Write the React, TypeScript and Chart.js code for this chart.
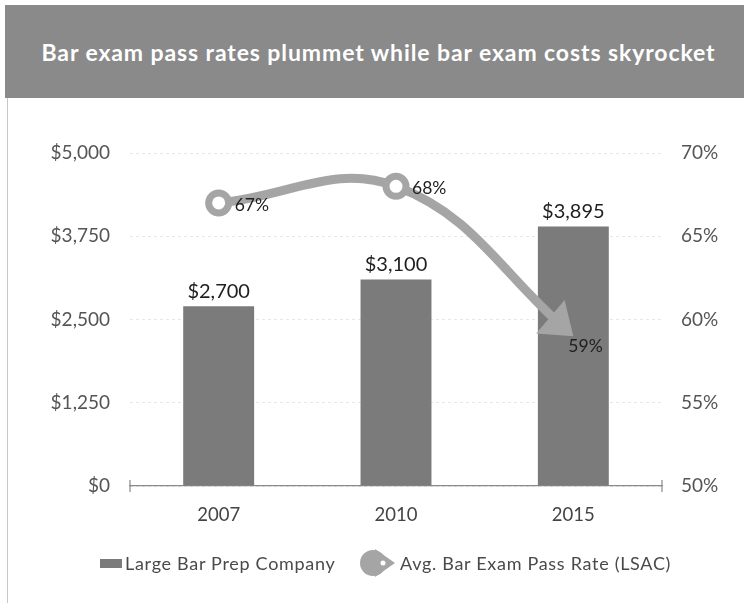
import React, { useEffect, useRef } from "react";
import { Chart, registerables } from "chart.js";

Chart.register(...registerables);

const title = "Bar exam pass rates plummet while bar exam costs skyrocket";
const categories = ["2007", "2010", "2015"];
const costValues = [2700, 3100, 3895];
const passRates = [67, 68, 59];
const costTicks = [0, 1250, 2500, 3750, 5000];
const rateTicks = [50, 55, 60, 65, 70];
const costLabel = "Large Bar Prep Company";
const rateLabel = "Avg. Bar Exam Pass Rate (LSAC)";

const FONT = "Lato, 'Open Sans', sans-serif";
const BAR_COLOR = "#7b7b7b";
const LINE_COLOR = "#a5a5a5";
const TITLE_BG = "#8a8a8a";

const fmtMoney = (v: number) => "$" + v.toLocaleString("en-US");
const fmtPct = (v: number) => v + "%";

const arrowPlugin = {
  id: "arrowAndLabels",
  beforeDatasetDraw(chart: any, args: any) {
    if (args.index !== 1) return;
    const meta = chart.getDatasetMeta(1);
    const last = meta.data[meta.data.length - 1];
    const ctx = chart.ctx;
    ctx.save();
    ctx.beginPath();
    ctx.rect(0, 0, chart.width, chart.height);
    ctx.arc(last.x, last.y, 12, 0, Math.PI * 2, true);
    ctx.clip("evenodd");
  },
  afterDatasetDraw(chart: any, args: any) {
    if (args.index !== 1) return;
    chart.ctx.restore();
  },
  afterDatasetsDraw(chart: any) {
    const ctx = chart.ctx;
    const lmeta = chart.getDatasetMeta(1);
    const pts = lmeta.data;
    const last = pts[pts.length - 1];
    const prev = pts[pts.length - 2];
    let dx = last.x - prev.x;
    let dy = last.y - prev.y;
    const len = Math.hypot(dx, dy) || 1;
    dx /= len;
    dy /= len;
    const aLen = 30;
    const half = 22;
    const bx = last.x - dx * aLen;
    const by = last.y - dy * aLen;
    ctx.save();
    ctx.fillStyle = LINE_COLOR;
    ctx.beginPath();
    ctx.moveTo(last.x, last.y);
    ctx.lineTo(bx - dy * half, by + dx * half);
    ctx.lineTo(bx + dy * half, by - dx * half);
    ctx.closePath();
    ctx.fill();
    ctx.restore();

    // bar value labels
    const bmeta = chart.getDatasetMeta(0);
    ctx.save();
    ctx.font = `20px ${FONT}`;
    ctx.fillStyle = "#1e1e1e";
    ctx.textAlign = "center";
    ctx.textBaseline = "bottom";
    bmeta.data.forEach((el: any, i: number) => {
      ctx.fillText(fmtMoney(costValues[i]), el.x, el.y - 5);
    });
    ctx.restore();

    // line value labels
    ctx.save();
    ctx.font = `17.5px ${FONT}`;
    ctx.fillStyle = "#1e1e1e";
    ctx.textAlign = "left";
    ctx.textBaseline = "middle";
    pts.forEach((el: any, i: number) => {
      const isLast = i === pts.length - 1;
      const ox = isLast ? -5 : 16;
      const oy = isLast ? 10 : 2;
      ctx.fillText(fmtPct(passRates[i]), el.x + ox, el.y + oy);
    });
    ctx.restore();
  },
  afterDraw(chart: any) {
    const ctx = chart.ctx;
    const a = chart.chartArea;
    ctx.save();
    ctx.strokeStyle = "#8a8a8a";
    ctx.lineWidth = 1.2;
    ctx.beginPath();
    ctx.moveTo(a.left, a.bottom - 6);
    ctx.lineTo(a.left, a.bottom + 6);
    ctx.moveTo(a.right, a.bottom - 6);
    ctx.lineTo(a.right, a.bottom + 6);
    ctx.stroke();
    ctx.restore();
  },
};

export default function App() {
  const canvasRef = useRef<HTMLCanvasElement | null>(null);

  useEffect(() => {
    if (!canvasRef.current) return;
    const chart = new Chart(canvasRef.current, {
      type: "bar",
      data: {
        labels: categories,
        datasets: [
          {
            type: "bar",
            label: costLabel,
            data: costValues,
            backgroundColor: BAR_COLOR,
            barPercentage: 0.4,
            categoryPercentage: 1,
            yAxisID: "y",
            order: 1,
          },
          {
            type: "line",
            label: rateLabel,
            data: passRates,
            yAxisID: "y2",
            borderColor: LINE_COLOR,
            borderWidth: 9,
            tension: 0.4,
            fill: false,
            pointRadius: [10, 10, 0],
            pointBorderWidth: 7,
            pointBackgroundColor: "#ffffff",
            pointBorderColor: LINE_COLOR,
            order: 0,
          } as any,
        ],
      },
      options: {
        animation: false,
        responsive: false,
        maintainAspectRatio: false,
        layout: { padding: { left: 0, right: 0, top: 55, bottom: 67 } },
        plugins: {
          legend: { display: false },
          tooltip: { enabled: false },
          title: { display: false },
        },
        scales: {
          x: {
            grid: { display: false, drawTicks: false },
            border: { display: true, color: "#8a8a8a", width: 1.2 },
            ticks: { font: { family: FONT, size: 18.5 }, color: "#444", padding: 18 },
            afterFit: (s: any) => {
              s.height = 50;
            },
          },
          y: {
            position: "left",
            min: 0,
            max: 5000,
            grid: { color: "#e6e6e6", drawTicks: false },
            border: { display: false, dash: [3, 3] },
            ticks: {
              font: { family: FONT, size: 19 },
              color: "#555",
              padding: 20,
              callback: (v: any) => fmtMoney(Number(v)),
            },
            afterBuildTicks: (s: any) => {
              s.ticks = costTicks.map((v) => ({ value: v }));
            },
            afterFit: (s: any) => {
              s.width = 130;
            },
          },
          y2: {
            position: "right",
            min: 50,
            max: 70,
            grid: { drawOnChartArea: false, drawTicks: false },
            border: { display: false },
            ticks: {
              font: { family: FONT, size: 19 },
              color: "#555",
              padding: 19,
              callback: (v: any) => fmtPct(Number(v)),
            },
            afterBuildTicks: (s: any) => {
              s.ticks = rateTicks.map((v) => ({ value: v }));
            },
            afterFit: (s: any) => {
              s.width = 82;
            },
          },
        },
      } as any,
      plugins: [arrowPlugin],
    });
    return () => chart.destroy();
  }, []);

  const legendText: React.CSSProperties = {
    position: "absolute",
    top: 552,
    lineHeight: "22px",
    fontFamily: FONT,
    fontSize: 18,
    letterSpacing: 0.7,
    color: "#4a4a4a",
    whiteSpace: "nowrap",
  };

  return (
    <div
      style={{
        position: "fixed",
        left: 0,
        top: 0,
        width: 744,
        height: 603,
        background: "#fff",
        overflow: "hidden",
      }}
    >
      <div
        style={{
          position: "absolute",
          left: 5,
          top: 5,
          width: 739,
          height: 93,
          background: TITLE_BG,
          display: "flex",
          alignItems: "center",
          justifyContent: "center",
          color: "#fff",
          fontFamily: FONT,
          fontWeight: 700,
          fontSize: 23,
          letterSpacing: 0.9,
          paddingLeft: 8,
          boxSizing: "border-box",
        }}
      >
        {title}
      </div>
      <div
        style={{
          position: "absolute",
          left: 7,
          top: 98,
          width: 1,
          height: 505,
          background: "#c8c8c8",
        }}
      />
      <canvas
        ref={canvasRef}
        width={744}
        height={505}
        style={{ position: "absolute", left: 0, top: 98, width: 744, height: 505 }}
      />
      <div
        style={{
          position: "absolute",
          left: 100,
          top: 559,
          width: 22,
          height: 9,
          background: BAR_COLOR,
        }}
      />
      <span style={{ ...legendText, left: 125 }}>{costLabel}</span>
      <svg
        style={{ position: "absolute", left: 359, top: 546 }}
        width={37}
        height={34}
        viewBox="0 0 37 34"
      >
        <circle cx={14} cy={17} r={13} fill={LINE_COLOR} />
        <polygon points="16,3 36,17 16,31" fill={LINE_COLOR} />
        <circle cx={24} cy={17} r={2.5} fill="#fff" />
      </svg>
      <span style={{ ...legendText, left: 400 }}>{rateLabel}</span>
    </div>
  );
}
